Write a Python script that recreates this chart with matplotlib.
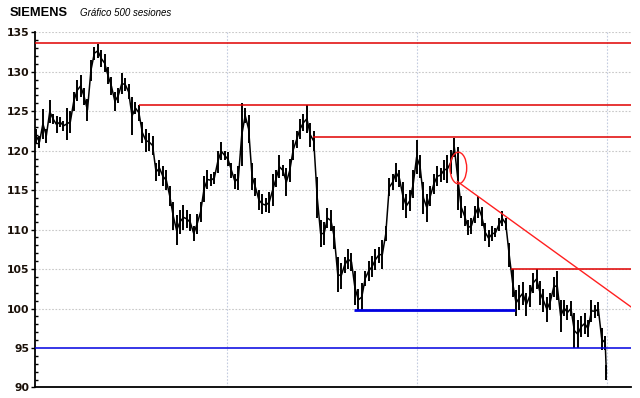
"""Siemens 500-session price chart with support/resistance lines."""

import matplotlib

matplotlib.use("Agg")
import matplotlib.pyplot as plt
from matplotlib.patches import Ellipse
from matplotlib.ticker import MultipleLocator

# session index, daily high and low
sessions = [
    0, 3, 6, 9, 12, 15, 18, 21, 24, 27, 30, 33, 36, 39, 42, 45, 48, 51, 54, 57,
    60, 63, 66, 69, 72, 75, 78, 81, 84, 87, 90, 93, 96, 99, 102, 105, 108, 111,
    114, 117, 120, 123, 126, 129, 132, 135, 138, 141, 144, 147, 150, 153, 156,
    159, 162, 165, 168, 171, 174, 177, 180, 183, 186, 189, 192, 195, 198, 201,
    204, 207, 210, 213, 216, 219, 222, 225, 228, 231, 234, 237, 240, 243, 246,
    249, 252, 255, 258, 261, 264, 267, 270, 273, 276, 279, 282, 285, 288, 291,
    294, 297, 300, 303, 306, 309, 312, 315, 318, 321, 324, 327, 330, 333, 336,
    339, 342, 345, 348, 351, 354, 357, 360, 363, 366, 369, 372, 375, 378, 381,
    384, 387, 390, 393, 396, 399, 402, 405, 408, 411, 414, 417, 420, 423, 426,
    429, 432, 435, 438, 441, 444, 447, 450, 453, 456, 459, 462, 465, 468, 471,
    474, 477, 480, 483, 486, 489, 492, 495, 498, 499,
]
high = [
    122.8, 121.8, 125.3, 122.8, 126.4, 124.6, 124.4, 124.3, 123.8, 125.4,
    125.0, 127.5, 129.0, 129.6, 128.0, 126.5, 131.5, 133.2, 133.5, 132.8,
    132.2, 130.6, 129.3, 127.5, 128.0, 129.8, 129.2, 128.4, 126.8, 126.2,
    125.8, 123.6, 122.8, 122.2, 121.8, 118.5, 118.8, 118.0, 117.5, 115.5,
    113.5, 111.8, 112.5, 113.1, 112.5, 112.0, 110.5, 112.0, 113.5, 116.8,
    117.5, 117.0, 117.3, 120.0, 121.1, 120.0, 119.8, 118.5, 117.0, 118.0,
    126.0, 125.4, 124.5, 118.5, 116.5, 115.0, 114.5, 114.0, 114.8, 117.0,
    117.5, 119.4, 118.2, 117.8, 119.0, 121.4, 122.5, 124.0, 124.6, 125.8,
    123.5, 122.5, 116.7, 111.2, 111.0, 112.7, 112.5, 110.5, 106.5, 105.8,
    106.5, 107.5, 107.0, 104.8, 102.5, 103.2, 104.8, 106.0, 106.6, 107.5,
    107.8, 108.7, 110.4, 116.5, 117.0, 118.5, 117.5, 116.0, 114.5, 115.0,
    117.5, 121.4, 119.5, 116.0, 114.5, 115.5, 117.0, 118.0, 117.8, 118.8,
    119.5, 120.1, 121.6, 120.5, 114.2, 113.0, 111.2, 111.5, 113.0, 114.2,
    112.9, 110.8, 110.0, 110.4, 110.2, 111.5, 112.3, 111.5, 108.3, 105.0,
    102.4, 103.0, 103.4, 102.0, 103.0, 104.5, 105.0, 103.5, 102.5, 101.5,
    102.0, 104.0, 104.7, 101.1, 101.1, 100.5, 101.0, 99.4, 98.5, 99.0,
    99.4, 98.5, 101.1, 100.5, 100.8, 97.5, 96.5, 92.8,
]
low = [
    121.0, 120.4, 121.5, 121.0, 123.5, 123.4, 122.2, 123.0, 122.5, 121.4,
    122.3, 125.0, 126.3, 126.8, 125.8, 123.8, 128.8, 131.5, 131.8, 130.6,
    130.0, 128.4, 127.0, 125.0, 126.0, 127.2, 127.6, 126.5, 122.0, 124.6,
    123.8, 121.0, 119.8, 120.0, 119.5, 116.1, 116.8, 115.5, 115.0, 113.0,
    110.0, 108.0, 109.5, 110.0, 110.2, 109.8, 108.5, 109.5, 111.0, 113.5,
    115.2, 115.5, 115.8, 117.2, 118.8, 118.8, 118.0, 116.5, 115.2, 115.0,
    118.0, 123.5, 121.0, 115.0, 114.2, 112.5, 112.0, 112.2, 112.1, 113.0,
    115.4, 116.5, 116.8, 114.2, 116.0, 118.8, 120.3, 121.5, 122.5, 122.3,
    120.5, 119.9, 111.5, 107.8, 108.0, 110.2, 109.8, 107.5, 102.1, 102.5,
    104.5, 105.0, 104.8, 100.5, 99.7, 99.7, 102.8, 103.5, 104.0, 104.9,
    105.8, 105.0, 108.5, 114.2, 115.0, 116.0, 115.4, 112.5, 111.5, 112.3,
    114.0, 117.0, 116.5, 112.0, 111.0, 113.0, 114.5, 115.5, 116.0, 116.3,
    115.9, 117.0, 119.2, 112.5, 111.5, 110.4, 109.3, 109.5, 110.8, 111.5,
    110.4, 108.5, 107.8, 108.5, 109.0, 109.8, 110.5, 110.0, 105.3, 101.5,
    99.0, 99.8, 100.5, 99.0, 100.2, 102.0, 102.5, 100.5, 99.5, 98.3,
    99.8, 101.5, 101.1, 97.0, 99.0, 98.5, 99.0, 95.0, 95.0, 96.4,
    96.8, 96.4, 98.3, 98.8, 99.0, 94.7, 94.8, 90.9,
]

# horizontal levels: (price, first session, last session, colour, width)
x_end = 520.6
levels = [
    (133.6, -1, x_end, "#e00000", 1.1),
    (125.85, 90, x_end, "#e00000", 1.1),
    (121.7, 242, x_end, "#e00000", 1.1),
    (105.0, 416, x_end, "#e00000", 1.1),
    (99.8, 278, 419, "#0000e0", 2.0),
    (95.0, -1, x_end, "#0000e0", 1.1),
]
trend_x = [368.6, 520.6]
trend_y = [116.1, 100.2]
vgrid = [167, 333.5, 499.5]

fig = plt.figure(figsize=(6.4, 3.98), dpi=100)
ax = fig.add_axes([0.0547, 0.0266, 0.9313, 0.8922])
ax.set_xlim(-0.9, x_end)
ax.set_ylim(90, 135)

# grid
for y in range(100, 136, 5):
    ax.axhline(y, color="#c8c8c8", lw=0.8, ls=(0, (1.5, 1.5)), zorder=0)
for x in vgrid:
    ax.axvline(x, color="#c4cce0", lw=0.8, ls=(0, (1.5, 1.5)), zorder=0)

# price bars
mid = [(h + l) / 2 for h, l in zip(high, low)]
ax.vlines(sessions, low, high, color="black", lw=1.4, zorder=3)
ax.plot(sessions, mid, color="black", lw=1.1, zorder=3)

for price, start, stop, col, w in levels:
    ax.plot([start, stop], [price, price], color=col, lw=w, zorder=4,
            solid_capstyle="butt")

ax.plot(trend_x, trend_y, color="#ff2020", lw=1.0, zorder=4)
ax.add_patch(Ellipse((369.5, 117.8), 14.6, 4.0, fill=False,
                     edgecolor="#ff2020", lw=1.0, zorder=5))

for s in ["top", "right"]:
    ax.spines[s].set_visible(False)
ax.spines["left"].set_linewidth(1.3)
ax.spines["bottom"].set_linewidth(1.3)
ax.set_xticks([])
ax.yaxis.set_major_locator(MultipleLocator(5))
ax.yaxis.set_minor_locator(MultipleLocator(1))
ax.tick_params(axis="y", which="major", direction="out", length=3, width=1,
               labelsize=7.8, pad=1, labelcolor="#1a1008")
ax.tick_params(axis="y", which="minor", direction="in", length=2.2, width=1)
for lab in ax.get_yticklabels():
    lab.set_fontweight("bold")

fig.text(10 / 640, 1 - 16 / 398, "SIEMENS", family="Liberation Sans",
         fontweight="bold", fontsize=9.3)
fig.text(80 / 640, 1 - 16 / 398, "Gráfico 500 sesiones",
         family="Liberation Sans", style="italic", fontsize=7)

fig.savefig("out.png", dpi=100)
